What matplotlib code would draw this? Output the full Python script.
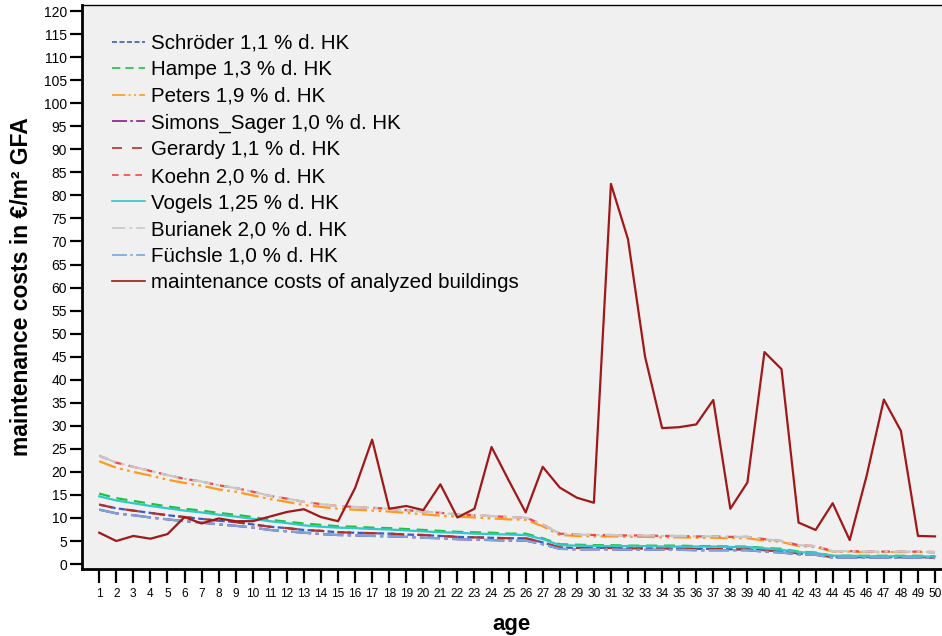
import matplotlib
matplotlib.use("Agg")
import matplotlib.pyplot as plt

plt.rcParams["font.family"] = ["Liberation Sans", "DejaVu Sans"]

ages = list(range(1, 51))

# values (EUR/m² GFA)
burianek = [23.5, 22.0, 21.1, 20.2, 19.3, 18.5, 17.9, 17.1, 16.5, 15.7,
            14.8, 14.2, 13.5, 13.0, 12.6, 12.4, 12.2, 12.0, 11.7, 11.4,
            11.1, 10.8, 10.6, 10.4, 10.2, 10.1, 8.6, 6.6, 6.4, 6.3,
            6.3, 6.2, 6.2, 6.1, 6.1, 6.0, 6.0, 5.9, 5.9, 5.4,
            5.0, 4.1, 3.9, 2.8, 2.8, 2.7, 2.7, 2.7, 2.7, 2.6]
koehn = [23.5, 22.0, 21.1, 20.2, 19.3, 18.5, 17.9, 17.1, 16.5, 15.7,
         14.8, 14.2, 13.5, 13.0, 12.6, 12.4, 12.2, 12.0, 11.7, 11.4,
         11.1, 10.8, 10.6, 10.4, 10.2, 10.1, 8.6, 6.6, 6.4, 6.3,
         6.3, 6.2, 6.2, 6.1, 6.1, 6.0, 6.0, 5.9, 5.9, 5.4,
         5.0, 4.1, 3.9, 2.8, 2.8, 2.7, 2.7, 2.7, 2.7, 2.6]
peters = [22.3, 20.9, 20.0, 19.2, 18.3, 17.6, 17.0, 16.2, 15.7, 14.9,
          14.1, 13.5, 12.8, 12.4, 12.0, 11.8, 11.6, 11.4, 11.1, 10.8,
          10.5, 10.3, 10.1, 9.9, 9.7, 9.6, 8.2, 6.3, 6.1, 6.0,
          6.0, 5.9, 5.9, 5.8, 5.8, 5.7, 5.7, 5.6, 5.6, 5.1,
          4.8, 3.9, 3.7, 2.7, 2.7, 2.6, 2.6, 2.6, 2.6, 2.5]
hampe = [15.3, 14.3, 13.7, 13.1, 12.5, 12.0, 11.6, 11.1, 10.7, 10.2,
         9.6, 9.2, 8.8, 8.5, 8.2, 8.1, 7.9, 7.8, 7.6, 7.4,
         7.2, 7.0, 6.9, 6.8, 6.6, 6.6, 5.6, 4.3, 4.2, 4.1,
         4.1, 4.0, 4.0, 4.0, 4.0, 3.9, 3.9, 3.8, 3.8, 3.5,
         3.3, 2.7, 2.5, 1.8, 1.8, 1.8, 1.8, 1.8, 1.8, 1.7]
vogels = [14.7, 13.8, 13.2, 12.6, 12.1, 11.6, 11.2, 10.7, 10.3, 9.8,
          9.3, 8.9, 8.4, 8.1, 7.9, 7.8, 7.6, 7.5, 7.3, 7.1,
          6.9, 6.8, 6.6, 6.5, 6.4, 6.3, 5.4, 4.1, 4.0, 3.9,
          3.9, 3.9, 3.9, 3.8, 3.8, 3.8, 3.8, 3.7, 3.7, 3.4,
          3.1, 2.6, 2.4, 1.8, 1.8, 1.7, 1.7, 1.7, 1.7, 1.6]
gerardy = [12.9, 12.1, 11.6, 11.1, 10.6, 10.2, 9.8, 9.4, 9.1, 8.6,
           8.1, 7.8, 7.4, 7.2, 6.9, 6.8, 6.7, 6.6, 6.4, 6.3,
           6.1, 5.9, 5.8, 5.7, 5.6, 5.6, 4.7, 3.6, 3.5, 3.5,
           3.5, 3.4, 3.4, 3.4, 3.4, 3.3, 3.3, 3.2, 3.2, 3.0,
           2.8, 2.3, 2.1, 1.5, 1.5, 1.5, 1.5, 1.5, 1.5, 1.4]
schroeder = [12.9, 12.1, 11.6, 11.1, 10.6, 10.2, 9.8, 9.4, 9.1, 8.6,
             8.1, 7.8, 7.4, 7.2, 6.9, 6.8, 6.7, 6.6, 6.4, 6.3,
             6.1, 5.9, 5.8, 5.7, 5.6, 5.6, 4.7, 3.6, 3.5, 3.5,
             3.5, 3.4, 3.4, 3.4, 3.4, 3.3, 3.3, 3.2, 3.2, 3.0,
             2.8, 2.3, 2.1, 1.5, 1.5, 1.5, 1.5, 1.5, 1.5, 1.4]
simons_sager = [11.8, 11.0, 10.6, 10.1, 9.7, 9.3, 9.0, 8.6, 8.3, 7.9,
                7.4, 7.1, 6.8, 6.5, 6.3, 6.2, 6.1, 6.0, 5.9, 5.7,
                5.6, 5.4, 5.3, 5.2, 5.1, 5.1, 4.3, 3.3, 3.2, 3.2,
                3.2, 3.1, 3.1, 3.1, 3.1, 3.0, 3.0, 3.0, 3.0, 2.7,
                2.5, 2.1, 2.0, 1.4, 1.4, 1.4, 1.4, 1.4, 1.4, 1.3]
fuechsle = [11.8, 11.0, 10.6, 10.1, 9.7, 9.3, 9.0, 8.6, 8.3, 7.9,
            7.4, 7.1, 6.8, 6.5, 6.3, 6.2, 6.1, 6.0, 5.9, 5.7,
            5.6, 5.4, 5.3, 5.2, 5.1, 5.1, 4.3, 3.3, 3.2, 3.2,
            3.2, 3.1, 3.1, 3.1, 3.1, 3.0, 3.0, 3.0, 3.0, 2.7,
            2.5, 2.1, 2.0, 1.4, 1.4, 1.4, 1.4, 1.4, 1.4, 1.3]
analyzed = [6.8, 5.0, 6.1, 5.5, 6.5, 10.2, 8.8, 9.9, 9.3, 9.3,
            10.3, 11.3, 11.9, 10.2, 9.3, 16.5, 27.0, 12.0, 12.6, 11.7,
            17.3, 10.1, 12.0, 25.4, 18.2, 11.2, 21.1, 16.6, 14.4, 13.3,
            82.5, 70.5, 45.0, 29.5, 29.7, 30.3, 35.6, 12.0, 17.7, 46.0,
            42.3, 9.0, 7.4, 13.2, 5.2, 19.3, 35.7, 28.9, 6.1, 6.0]

fig = plt.figure(figsize=(9.42, 6.36), dpi=100)
ax = fig.add_axes([0.0867, 0.1053, 0.9133, 0.8867])
ax.set_facecolor("#f0f0f0")

lw = 1.6
series = [
    ("Schröder 1,1 % d. HK", schroeder, "#3b5bbf", (0, (3, 1.5))),
    ("Hampe 1,3 % d. HK", hampe, "#22c040", (0, (5, 3))),
    ("Peters 1,9 % d. HK", peters, "#ff9a20", (0, (8, 2, 1.2, 2, 1.2, 2))),
    ("Simons_Sager 1,0 % d. HK", simons_sager, "#8a1a8a", (0, (9, 2, 1.5, 2))),
    ("Gerardy 1,1 % d. HK", gerardy, "#b03030", (0, (6, 6))),
    ("Koehn 2,0 % d. HK", koehn, "#f04848", (0, (4, 3))),
    ("Vogels 1,25 % d. HK", vogels, "#30c8c8", "-"),
    ("Burianek 2,0 % d. HK", burianek, "#c8c8c8", (0, (8, 2.5, 1.5, 2.5))),
    ("Füchsle 1,0 % d. HK", fuechsle, "#7aa6dc", (0, (9, 2, 1.5, 2))),
]
for label, vals, color, ls in series:
    ax.plot(ages, vals, color=color, linestyle=ls, linewidth=lw, label=label)
ax.plot(ages, analyzed, color="#a01818", linewidth=1.6,
        label="maintenance costs of analyzed buildings")

ax.set_xlim(-0.03, 50.41)
ax.set_ylim(-1.08, 121.3)
ax.set_xticks(ages)
ax.set_xticklabels([str(a) for a in ages], fontsize=8.6)
ax.set_yticks(range(0, 121, 5))
ax.set_yticklabels([str(v) for v in range(0, 121, 5)], fontsize=10)
ax.tick_params(axis="x", length=10, width=1.6, direction="out", pad=4)
ax.tick_params(axis="y", length=9, width=1.6, direction="out", pad=1.5)

ax.spines["right"].set_visible(False)
ax.spines["top"].set_linewidth(1.0)
ax.spines["left"].set_linewidth(2.0)
ax.spines["bottom"].set_linewidth(2.0)

ax.set_xlabel("age", fontsize=16, fontweight="bold", labelpad=10)
ax.set_ylabel("maintenance costs in €/m² GFA", fontsize=16.5, fontweight="bold",
              labelpad=8)

leg = ax.legend(loc="upper left", bbox_to_anchor=(0.014, 0.982), frameon=False,
                fontsize=14.8, labelspacing=0.37, handlelength=1.6,
                handletextpad=0.3)
for h in leg.legend_handles:
    h.set_linewidth(1.2)

fig.savefig("out.png", dpi=100)
